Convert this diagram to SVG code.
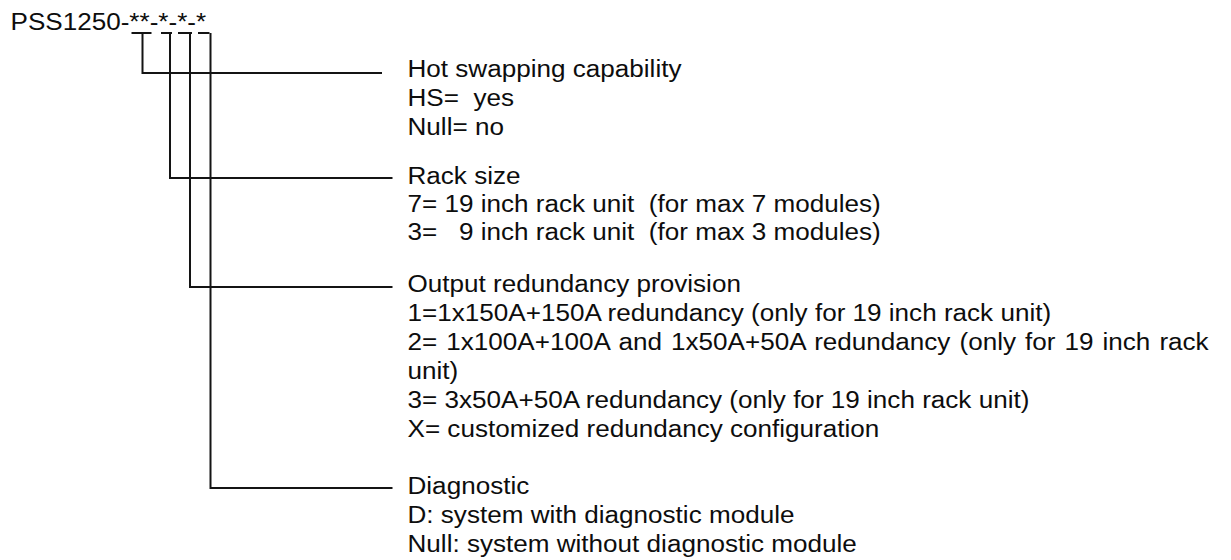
<svg xmlns="http://www.w3.org/2000/svg" width="1231" height="560" viewBox="0 0 1231 560">
<style>
  text { font-family: "Liberation Sans", Arial, sans-serif; font-size: 23.3px; fill: #0d0d0d; }
  .ln { stroke: #141414; stroke-width: 2; fill: none; }
</style>
<rect width="1231" height="560" fill="#fff"/>
<g id="code">
  <text transform="translate(10.5 0) scale(1.12 1)" x="0" y="30">PSS1250-**-*-*-*</text>
</g>
<g id="connectors">
  <line class="ln" x1="131.5" y1="33" x2="151.5" y2="33"/>
  <line class="ln" x1="161" y1="33" x2="172" y2="33"/>
  <line class="ln" x1="178" y1="33" x2="192" y2="33"/>
  <line class="ln" x1="198" y1="33" x2="209.5" y2="33"/>
  <polyline class="ln" points="142.5,33 142.5,73 382,73"/>
  <polyline class="ln" points="170,33 170,178 392.5,178"/>
  <polyline class="ln" points="190,33 190,287 392.5,287"/>
  <polyline class="ln" points="210.5,33 210.5,488 392.5,488"/>
</g>
<g id="hot-swap" transform="translate(407.5 0) scale(1.12 1)">
  <text x="0" y="77">Hot swapping capability</text>
  <text x="0" y="106" xml:space="preserve">HS=  yes</text>
  <text x="0" y="135">Null= no</text>
</g>
<g id="rack-size" transform="translate(407.5 0) scale(1.12 1)">
  <text x="0" y="184">Rack size</text>
  <text x="0" y="212" xml:space="preserve">7= 19 inch rack unit  (for max 7 modules)</text>
  <text x="0" y="240" xml:space="preserve">3=   9 inch rack unit  (for max 3 modules)</text>
</g>
<g id="output-redundancy" transform="translate(407.5 0) scale(1.12 1)">
  <text x="0" y="292">Output redundancy provision</text>
  <text x="0" y="321">1=1x150A+150A redundancy (only for 19 inch rack unit)</text>
  <text x="0" y="350" word-spacing="1.6">2= 1x100A+100A and 1x50A+50A redundancy (only for 19 inch rack</text>
  <text x="0" y="379">unit)</text>
  <text x="0" y="408">3= 3x50A+50A redundancy (only for 19 inch rack unit)</text>
  <text x="0" y="437">X= customized redundancy configuration</text>
</g>
<g id="diagnostic" transform="translate(407.5 0) scale(1.12 1)">
  <text x="0" y="494">Diagnostic</text>
  <text x="0" y="523">D: system with diagnostic module</text>
  <text x="0" y="552">Null: system without diagnostic module</text>
</g>
</svg>
